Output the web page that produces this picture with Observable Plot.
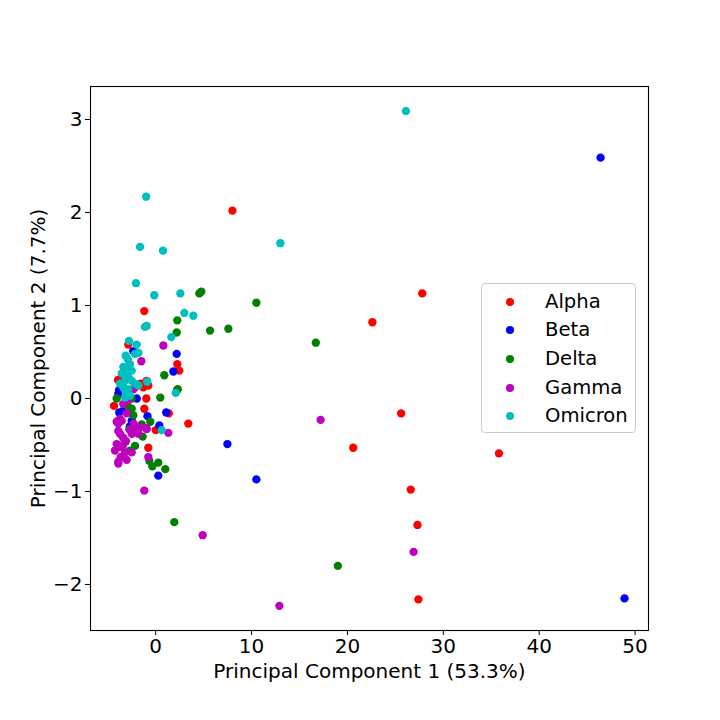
<!DOCTYPE html>
<html>
<head>
<meta charset="utf-8">
<script src="https://cdn.jsdelivr.net/npm/d3@7"></script>
<script src="https://cdn.jsdelivr.net/npm/@observablehq/plot@0.6"></script>
<style>
  html, body { margin: 0; padding: 0; background: white; }
  #wrap { position: relative; width: 720px; height: 720px; font-family: "DejaVu Sans", sans-serif; }
  #legend { position: absolute; left: 481px; top: 283px; width: 155px; height: 150px;
    border: 1px solid #cccccc; border-radius: 4px; background: rgba(255,255,255,0.8); box-sizing: border-box; }
  .item { position: absolute; left: 0; height: 28px; display: flex; align-items: center; }
  .dot { position: absolute; left: 24px; width: 8px; height: 8px; border-radius: 50%; }
  .lab { position: absolute; left: 63px; font-size: 19.6px; color: black; white-space: nowrap; line-height: 28px; }
</style>
</head>
<body>
<div id="wrap"></div>
<script>
const categories = ["Alpha", "Beta", "Delta", "Gamma", "Omicron"];
const colors = ["#ff0000", "#0000ff", "#008000", "#bf00bf", "#00bfbf"];
const xTicks = [0, 10, 20, 30, 40, 50];
const yTicks = [-2, -1, 0, 1, 2, 3];
const xLabel = "Principal Component 1 (53.3%)";
const yLabel = "Principal Component 2 (7.7%)";

const alpha = [
  [8.0, 2.02], [27.8, 1.13], [22.6, 0.82], [25.6, -0.16], [20.6, -0.53], [35.8, -0.59],
  [26.6, -0.98], [27.3, -1.36], [27.4, -2.16], [-1.19, 0.94], [2.25, 0.37], [2.46, 0.30],
  [-0.77, 0.14], [-1.57, 0.16], [-0.98, 0.0], [-1.19, -0.11], [1.36, -0.16], [3.4, -0.27],
  [0.0, -0.34], [-0.77, -0.53], [-2.86, 0.58], [-3.93, 0.20], [-4.35, -0.08], [-3.73, 0.19],
  [-2.16, 0.12], [-1.29, 0.12], [-0.94, 0.19]
];
const beta = [
  [46.4, 2.59], [48.9, -2.15], [10.5, -0.87], [7.48, -0.49], [2.19, 0.48], [1.84, 0.29],
  [1.1, -0.15], [-0.86, -0.19], [0.38, -0.29], [0.27, -0.83], [-2.34, 0.51], [-3.83, 0.09],
  [-3.9, 0.05], [-1.98, 0.0], [-3.8, -0.15], [-2.5, -0.24], [-3.3, -0.12], [-2.7, -0.3]
];
const delta = [
  [10.5, 1.03], [16.7, 0.60], [19.0, -1.80], [1.94, -1.33], [4.55, 1.13], [4.76, 1.15],
  [2.25, 0.84], [5.67, 0.73], [7.58, 0.75], [2.19, 0.71], [0.9, 0.25], [2.22, 0.09],
  [2.3, 0.1], [0.48, 0.01], [-0.56, -0.25], [-1.36, -0.41], [-0.67, -0.67], [0.27, -0.69],
  [-0.35, -0.73], [1.0, -0.76], [-4.07, 0.0], [-2.5, 0.0], [-2.86, -0.09], [-2.34, -0.18],
  [-2.75, -0.33], [-2.16, -0.51], [-2.68, -0.56], [-2.5, -0.11], [-1.46, -0.28]
];
const gamma = [
  [17.2, -0.23], [26.9, -1.65], [12.9, -2.23], [4.9, -1.47], [-1.19, -0.99], [0.8, 0.57],
  [-1.5, 0.40], [-0.98, -0.32], [1.32, -0.37], [-0.77, -0.63], [-3.38, -0.06], [-2.86, -0.02],
  [-3.03, -0.16], [-3.9, -0.27], [-3.55, -0.24], [-3.73, -0.22], [-4.07, -0.25], [-2.3, -0.27],
  [-1.8, -0.31], [-0.94, -0.33], [-3.73, -0.38], [-3.4, -0.42], [-3.1, -0.46], [-4.07, -0.49],
  [-4.25, -0.56], [-3.73, -0.52], [-3.2, -0.58], [-2.5, -0.58], [-3.9, -0.68], [-3.03, -0.66],
  [-3.66, -0.63], [-2.16, -0.31], [-1.63, -0.31], [-2.68, -0.34], [-2.5, -0.38], [-1.8, -0.38],
  [-3.9, -0.35], [-3.4, -0.5], [-3.9, -0.70], [-2.34, 0.10]
];
const omicron = [
  [26.1, 3.09], [-1.0, 2.17], [-1.64, 1.63], [0.76, 1.59], [13.0, 1.67], [-2.06, 1.24],
  [-0.15, 1.11], [2.57, 1.13], [2.99, 0.92], [3.92, 0.89], [-1.12, 0.77], [-0.94, 0.78],
  [1.63, 0.66], [-0.88, 0.18], [2.09, 0.06], [0.63, -0.34], [-2.79, 0.62], [-1.98, 0.58],
  [-1.8, 0.49], [-2.16, 0.48], [-3.13, 0.46], [-2.68, 0.37], [-3.38, 0.34], [-2.86, 0.32],
  [-2.5, 0.30], [-3.55, 0.27], [-3.03, 0.25], [-3.2, 0.19], [-2.5, 0.19], [-2.16, 0.16],
  [-1.8, 0.14], [-3.73, 0.16], [-3.38, 0.12], [-2.86, 0.10], [-3.2, 0.09], [-2.68, 0.03],
  [-3.2, 0.01], [-2.8, 0.22], [-2.9, 0.42], [-3.0, 0.05]
];

const seriesPts = [alpha, beta, delta, gamma, omicron];
const data = seriesPts.flatMap((pts, i) => pts.map(([x, y]) => ({x, y, name: categories[i]})));
const fmt = d3.format("d");

const chart = Plot.plot({
  width: 720,
  height: 720,
  marginLeft: 90,
  marginRight: 72,
  marginTop: 86,
  marginBottom: 90,
  style: {fontFamily: "DejaVu Sans", fontSize: "20px", color: "black", background: "white"},
  x: {domain: [-6.8, 51.4]},
  y: {domain: [-2.495, 3.355]},
  color: {domain: categories, range: colors},
  marks: [
    Plot.dot(data, {x: "x", y: "y", fill: "name", r: 4.17}),
    Plot.frame({stroke: "black", strokeWidth: 1.1}),
    Plot.axisX({ticks: xTicks, tickFormat: fmt, tickSize: 5, tickPadding: 3, fontSize: 20,
      label: xLabel, labelAnchor: "center", labelArrow: "none", labelOffset: 47}),
    Plot.axisY({ticks: yTicks, tickFormat: fmt, tickSize: 5, tickPadding: 3, fontSize: 20,
      label: yLabel, labelAnchor: "center", labelArrow: "none", labelOffset: 60})
  ]
});

const wrap = document.getElementById("wrap");
wrap.appendChild(chart);

const legend = document.createElement("div");
legend.id = "legend";
categories.forEach((c, i) => {
  const item = document.createElement("div");
  item.className = "item";
  item.style.top = (3.5 + i * 28.7) + "px";
  const dot = document.createElement("div");
  dot.className = "dot";
  dot.style.background = colors[i];
  const lab = document.createElement("div");
  lab.className = "lab";
  lab.textContent = c;
  item.appendChild(dot);
  item.appendChild(lab);
  legend.appendChild(item);
});
wrap.appendChild(legend);
</script>
</body>
</html>
